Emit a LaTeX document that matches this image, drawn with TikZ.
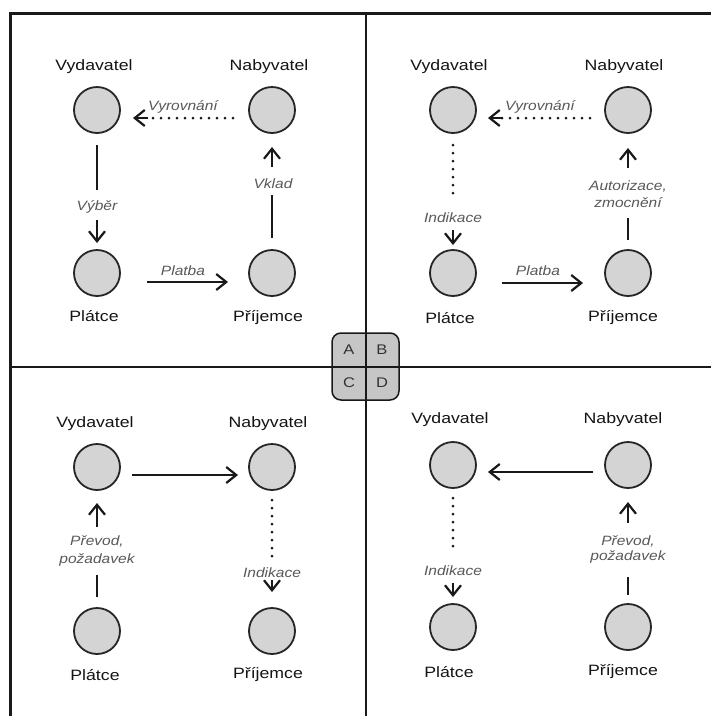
\documentclass[tikz,border=0pt]{standalone}
\usepackage{fontspec}
\usetikzlibrary{arrows.meta}
\newfontfamily\namefont[FakeStretch=1.18]{Liberation Sans}
\newfontfamily\lblfont[FakeStretch=1.15]{Liberation Sans}
\definecolor{circfill}{HTML}{D4D4D4}
\definecolor{boxfill}{HTML}{C6C6C6}
\begin{document}
\begin{tikzpicture}[x=1pt,y=-1pt,
 party/.style={circle, draw=black!85, line width=1.8pt, fill=circfill, minimum size=46pt, inner sep=0pt, outer sep=0pt},
 pname/.style={font=\namefont\fontsize{15}{15}\selectfont, text=black!92, anchor=base, inner sep=0pt},
 lbl/.style={font=\lblfont\itshape\fontsize{13.5}{13.5}\selectfont, text=black!65, anchor=base, inner sep=0pt},
 letter/.style={font=\namefont\fontsize{14}{14}\selectfont, text=black!80, inner sep=0pt},
 ln/.style={line width=2.2pt, draw=black!90},
 ar/.style={line width=2.2pt, draw=black!90, -{Straight Barb[length=10pt,width=16pt]}},
 dots/.style={line width=3pt, draw=black!90, dash pattern=on 0pt off 8pt, line cap=round},
 frame/.style={line width=3pt, draw=black!90},
 divider/.style={line width=2pt, draw=black!90},
]
\useasboundingbox (0,0) rectangle (711,716);
\fill[white] (0,0) rectangle (711,716);

% ---------------- Quadrant A ----------------
\node[party] (Av) at (97,110) {};
\node[party] (An) at (272,110) {};
\node[party] (Ap) at (97,273) {};
\node[party] (Ar) at (272,273) {};
\node[pname] (Avl) at (94,70) {Vydavatel};
\node[pname] (Anl) at (269,70) {Nabyvatel};
\node[pname] (Apl) at (94,321) {Plátce};
\node[pname] (Arl) at (268,321) {Příjemce};
\node[lbl] (Alvyr) at (183,110) {Vyrovnání};
\node[lbl] (Alvyb) at (97,210) {Výběr};
\node[lbl] (Alvkl) at (273,188) {Vklad};
\node[lbl] (Alpla) at (183,275) {Platba};
\draw[dots, shorten <=16pt, shorten >=33pt] ([yshift=-8pt]An.west) -- ([yshift=-8pt]Av.east);
\draw[ar, shorten <=101pt, shorten >=13pt] ([yshift=-8pt]An.west) -- ([yshift=-8pt]Av.east);
\draw[ln, shorten <=12pt, shorten >=60pt] (Av) -- (Ap);
\draw[ar, shorten <=87pt, shorten >=7pt] (Av) -- (Ap);
\draw[ln, shorten <=12pt, shorten >=62pt] (Ar) -- (An);
\draw[ar, shorten <=83pt, shorten >=14pt] (Ar) -- (An);
\draw[ar, shorten <=27pt, shorten >=21pt] ([yshift=-9pt]Ap.east) -- ([yshift=-9pt]Ar.west);

% ---------------- Quadrant B ----------------
\node[party] (Bv) at (453,110) {};
\node[party] (Bn) at (628,110) {};
\node[party] (Bp) at (453,273) {};
\node[party] (Br) at (628,273) {};
\node[pname] (Bvl) at (449,70) {Vydavatel};
\node[pname] (Bnl) at (624,70) {Nabyvatel};
\node[pname] (Bpl) at (450,323) {Plátce};
\node[pname] (Brl) at (623,321) {Příjemce};
\node[lbl] (Blvyr) at (540,110) {Vyrovnání};
\node[lbl] (Blind) at (453,222) {Indikace};
\node[lbl] (Blaut) at (628,190) {Autorizace,};
\node[lbl] (Blzmo) at (628,207) {zmocnění};
\node[lbl] (Blpla) at (538,275) {Platba};
\draw[dots, shorten <=15pt, shorten >=22pt] ([yshift=-8pt]Bn.west) -- ([yshift=-8pt]Bv.east);
\draw[ar, shorten <=102pt, shorten >=12pt] ([yshift=-8pt]Bn.west) -- ([yshift=-8pt]Bv.east);
\draw[dots, shorten <=12pt, shorten >=50pt] (Bv) -- (Bp);
\draw[ar, shorten <=97pt, shorten >=5pt] (Bv) -- (Bp);
\draw[ln, shorten <=10pt, shorten >=85pt] (Br) -- (Bn);
\draw[ar, shorten <=82pt, shorten >=15pt] (Br) -- (Bn);
\draw[ar, shorten <=26pt, shorten >=22pt] ([yshift=-10pt]Bp.east) -- ([yshift=-10pt]Br.west);

% ---------------- Quadrant C ----------------
\node[party] (Cv) at (97,467) {};
\node[party] (Cn) at (272,467) {};
\node[party] (Cp) at (97,631) {};
\node[party] (Cr) at (272,631) {};
\node[pname] (Cvl) at (95,427) {Vydavatel};
\node[pname] (Cnl) at (268,427) {Nabyvatel};
\node[pname] (Cpl) at (95,680) {Plátce};
\node[pname] (Crl) at (268,678) {Příjemce};
\node[lbl] (Clpre) at (97,545) {Převod,};
\node[lbl] (Clpoz) at (97,563) {požadavek};
\node[lbl] (Clind) at (272,577) {Indikace};
\draw[ar, shorten <=12pt, shorten >=11pt] ([yshift=-8pt]Cv.east) -- ([yshift=-8pt]Cn.west);
\draw[ln, shorten <=11pt, shorten >=85pt] (Cp) -- (Cv);
\draw[ar, shorten <=81pt, shorten >=13pt] (Cp) -- (Cv);
\draw[dots, shorten <=10pt, shorten >=45pt] (Cn) -- (Cr);
\draw[ar, shorten <=90pt, shorten >=16pt] (Cn) -- (Cr);

% ---------------- Quadrant D ----------------
\node[party] (Dv) at (453,465) {};
\node[party] (Dn) at (628,465) {};
\node[party] (Dp) at (453,627) {};
\node[party] (Dr) at (628,627) {};
\node[pname] (Dvl) at (450,423) {Vydavatel};
\node[pname] (Dnl) at (623,423) {Nabyvatel};
\node[pname] (Dpl) at (449,677) {Plátce};
\node[pname] (Drl) at (623,675) {Příjemce};
\node[lbl] (Dlind) at (453,575) {Indikace};
\node[lbl] (Dlpre) at (628,545) {Převod,};
\node[lbl] (Dlpoz) at (628,560) {požadavek};
\draw[ar, shorten <=12pt, shorten >=12pt] ([yshift=-7pt]Dn.west) -- ([yshift=-7pt]Dv.east);
\draw[dots, shorten <=10pt, shorten >=51pt] (Dv) -- (Dp);
\draw[ar, shorten <=95pt, shorten >=7pt] (Dv) -- (Dp);
\draw[ln, shorten <=9pt, shorten >=89pt] (Dr) -- (Dn);
\draw[ar, shorten <=81pt, shorten >=14pt] (Dr) -- (Dn);

% ---------------- Frame, dividers, key ----------------
\node[draw=black!90, line width=1.5pt, rounded corners=9pt, fill=boxfill, minimum size=67pt, inner sep=0pt] (key) at (365.5,366.5) {};
\draw[divider] (365.5,13) -- (365.5,716);
\draw[divider] (10,367) -- (711,367);
\draw[frame] (10,716) -- (10,13) -- (711,13);
\node[letter] (kA) at (349,350) {A};
\node[letter] (kB) at (382,350) {B};
\node[letter] (kC) at (349,383) {C};
\node[letter] (kD) at (382,383) {D};
\end{tikzpicture}
\end{document}
